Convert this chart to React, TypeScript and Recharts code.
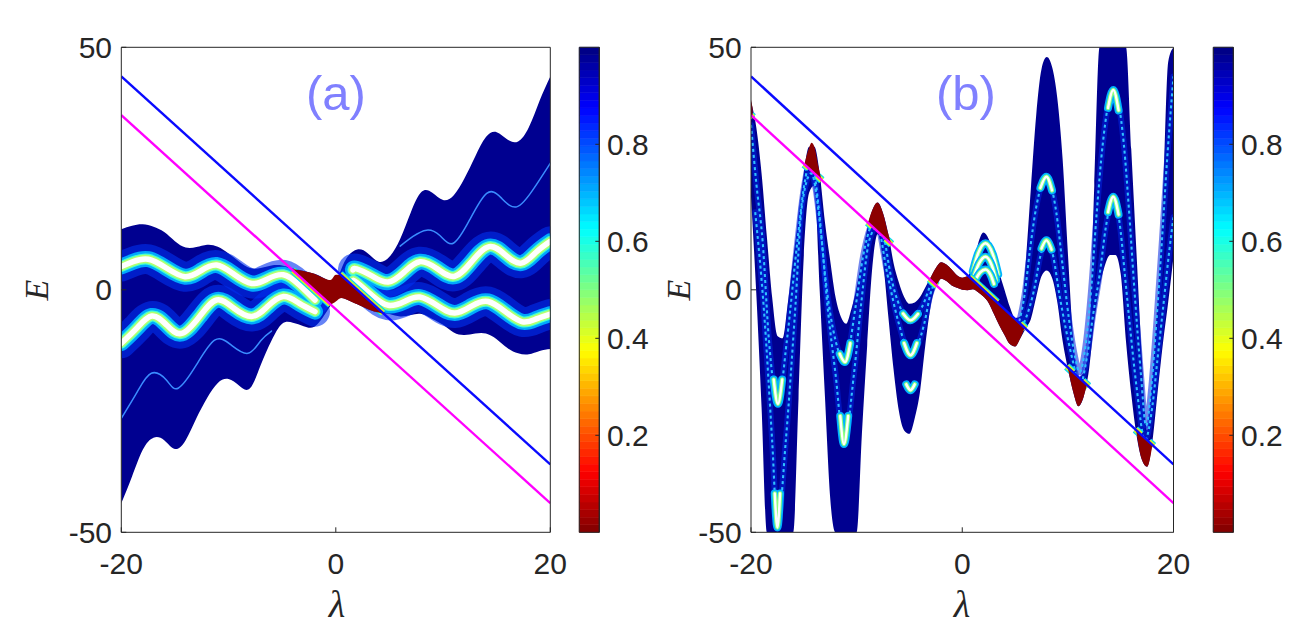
import { Area, ComposedChart, Line, ReferenceArea, XAxis, YAxis } from 'recharts';

const SANS = '"Liberation Sans", Arial, Helvetica, sans-serif';
const SERIF = '"Liberation Serif", "Times New Roman", serif';
const INK = '#262626';
const NAVY = '#000090';
const DARK_RED = '#8c0000';
const BLUE = '#0a0aff';
const MAGENTA = '#ff00ff';
const PANEL_LABEL = '#8080ff';

const LAMBDA_TICKS = [-20, 0, 20];
const E_TICKS = [-50, 0, 50];
const CBAR_TICKS = [0.2, 0.4, 0.6, 0.8];
const CBAR_STEPS = 64;

// the two straight lines, read at both ends of the lambda range
const lineLam = [-20, 20];
const blueE = [44, -36];
const magentaE = [36, -44];

// ---------- panel (a) ----------
// left band (envelope of the dark blue region)
const aLeftLam = [-20, -19, -18, -17, -16, -15, -14, -13, -12, -11, -10, -9, -8, -7, -6, -5, -4, -3, -2, -1, -0.3];
const aLeftHi = [12.5, 13.2, 13.5, 13.0, 11.9, 10.0, 8.7, 8.8, 9.3, 8.9, 7.5, 5.8, 4.5, 4.5, 5.0, 5.0, 4.4, 3.9, 3.3, 2.3, 1.5];
const aLeftLo = [-44, -38.5, -33, -30.5, -31, -32.8, -31, -26.5, -22.3, -19.2, -18.4, -19.8, -20.3, -15.5, -10.5, -7.0, -6.8, -7.5, -7.6, -5.0, -2.5];
// right band
const aRightLam = [0.3, 1, 2, 3, 4, 5, 6, 7, 8, 9, 10, 11, 12, 13, 14, 15, 16, 17, 18, 19, 20];
const aRightHi = [3.0, 6.5, 8.3, 7.5, 5.8, 6.8, 10.5, 16, 20.2, 20, 18.5, 19.5, 23, 27.5, 31.5, 32.5, 31, 30.6, 33.5, 39, 44];
const aRightLo = [-1.5, -2.0, -3.0, -4.0, -4.7, -5.0, -5.5, -5.2, -5.0, -6.0, -7.2, -8.8, -9.3, -9.0, -9.0, -10.2, -12.0, -13.1, -13.3, -12.6, -12.2];
// bright curves
const a1Lam = [-20, -18.9, -17.48, -15.8, -14.06, -12.6, -11.11, -9.5, -7.84, -6.4, -4.89, -3.4, -1.94];
const a1E = [4.8, 5.8, 6.3, 4.5, 2.7, 3.9, 5.1, 3.2, 1.3, 2.2, 3.1, 1.0, -2.1];
const a2Lam = [-20, -18.6, -17.17, -15.8, -14.37, -12.7, -11.11, -9.5, -7.84, -6.4, -4.89, -3.4, -1.94];
const a2E = [-11.0, -8.0, -5.4, -7.2, -9.0, -5.5, -2.1, -3.8, -5.5, -3.5, -1.4, -2.8, -4.5];
const a3Lam = [1.6, 1.94, 3.4, 4.89, 6.4, 7.84, 9.5, 11.1, 12.7, 14.3, 15.8, 17.3, 18.7, 20];
const a3E = [4.1, 4.3, 2.8, 1.6, 3.7, 5.8, 4.3, 2.8, 5.9, 8.9, 7.2, 5.5, 7.8, 10.0];
const a4Lam = [1.6, 1.94, 3.4, 4.89, 6.4, 7.84, 9.5, 11.1, 12.7, 14.2, 15.8, 17.4, 18.7, 20];
const a4E = [1.9, 1.5, -1.2, -3.2, -2.4, -1.5, -3.3, -4.8, -3.3, -2.4, -4.5, -6.6, -6.0, -5.0];
// faint thin curves
const aF1Lam = [-20, -18.5, -17.2, -15.8, -14.7, -13, -11.3, -9.8, -8.2, -7, -6];
const aF1E = [-26.5, -21, -17.2, -18.6, -20.3, -15.5, -10.4, -11.3, -13.1, -10.5, -8.5];
const aF2Lam = [6, 7.2, 8.47, 9.7, 10.96, 12.5, 14.07, 15.4, 16.87, 18.5, 20];
const aF2E = [9.0, 11, 12.3, 11.2, 9.6, 14.5, 19.9, 19, 17.1, 21, 26.1];
// dark red part (between the two lines)
const aRedLam = [-4.0, -3.5, -3.0, -2.5, -2.0, -1.5, -1.0, -0.5, 0.0, 0.5, 1.0, 1.5, 2.0, 2.5, 3.0, 3.5, 4.0, 4.5];
const aRedLo = [4.0, 3.0, 2.0, 1.0, 0.0, -1.0, -2.0, -3.0, -2.4, -1.7, -2.0, -2.5, -3.0, -3.5, -4.0, -4.4, -4.7, -5.0];
const aRedHi = [4.3, 4.1, 3.9, 3.6, 3.3, 2.8, 2.3, 2.0, 3.1, 3.0, 2.0, 1.0, 0.0, -1.0, -2.0, -3.0, -4.0, -5.0];
// where the band touches the lines (coloured fringe)
const aEdges: [number[], number[]][] = [
  [[-4.0, -0.5], [4.0, -3.0]],
  [[0.4, 4.4], [3.2, -4.8]],
];

// ---------- panel (b) ----------
const bLam = [
  -20, -19.5, -19, -18.5, -18, -17.5, -17, -16.5, -16, -15.5,
  -15, -14.5, -14, -13.5, -13, -12.5, -12, -11.5, -11, -10.5,
  -10, -9.5, -9, -8.5, -8, -7.5, -7, -6.5, -6, -5.5,
  -5, -4.5, -4, -3.5, -3, -2.5, -2, -1.5, -1, -0.5,
  0, 0.5, 1, 1.5, 2, 2.5, 3, 3.5, 4, 4.5,
  5, 5.5, 6, 6.5, 7, 7.5, 8, 8.5, 9, 9.5,
  10, 10.5, 11, 11.5, 12, 12.5, 13, 13.5, 14, 14.5,
  15, 15.5, 16, 16.5, 17, 17.5, 18, 18.5, 19, 19.5,
  20,
];
const bHi = [
  38.8, 33.5, 24, 11, -1.5, -9.5, -10, -2.5, 6.5, 15,
  24, 29.5, 29.5, 24, 14, 6, -1.5, -5.5, -7, -4,
  0.5, 6.5, 12.5, 16.5, 18, 15.8, 11.5, 5.5, 1.5, -1.5,
  -2.9, -2.6, -1.5, 0.5, 2.5, 4.5, 5.7, 5.2, 4.2, 3.0,
  2.5, 2.8, 5.0, 9.5, 11.8, 10.5, 7, 3.5, 0, -3.5,
  -5.8, -5.5, 5.3, 21, 36, 45.5, 48, 46, 39.5, 27,
  7.6, -10, -18, -17, -10.4, 21.5, 50, 50, 50, 50,
  50, 50, 29, 7.5, -14, -29, -18, -1.6, 18.7, 47,
  50,
];
const bLo = [
  19.2, -0.7, -24.2, -50, -50, -50, -50, -50, -50, -22.4,
  7, 20, 21.5, 0, -22, -43, -50, -50, -50, -50,
  -50, -29.7, -11.5, 5, 11.5, 5.8, -5.5, -16.5, -25, -29,
  -29.7, -26.5, -21, -11.5, -3.5, 0.8, 2.3, 1.8, 0.9, 0.4,
  0, -0.1, 0.1, -0.5, -1.4, -2.7, -5, -7.3, -9.3, -11.2,
  -11.7, -10, -8, -6, -1.5, 2.8, 4.0, 2.5, -2.5, -10.5,
  -16.3, -21, -24, -22, -16.5, -6.5, 0.5, 5, 7.2, 7.2,
  3.3, -10.6, -21.5, -30, -35, -36.5, -31.3, -21, -11, -2.5,
  6.8,
];
// dotted bright curves running inside the tube
const bC1Lam = [
  -20, -19.5, -18.9, -18.3, -17.45, -16.6, -15.6, -15.0, -14.3, -13.6, -13.0, -12.0, -11.1, -10.1, -9.4, -8.7,
  -8.05, -7.35, -6.8, -5.9, -4.9, -3.8, -2.8, -2.0,
];
const bC1E = [34, 22, 10, -10.4, -23.5, -10.4, 10.2, 21, 27, 17.1, 3.3, -10.4, -14.9, -3.5, 6.8, 13, 15.5, 10.2, 3.3, -3.5, -6.3, -3.5, 2.0, 4.0];
const bC1RLam = [5.4, 5.9, 6.4, 7.0, 7.97, 8.9, 9.5, 10.1, 10.7, 11.1, 11.7, 12.2, 12.7, 13.3, 14.3, 15.3, 15.8, 16.3, 16.9, 17.4, 17.9, 18.4, 18.9, 19.4, 20];
const bC1RE = [-6.5, -1, 8, 17, 23.3, 16, 5, -6, -14, -17, -11, 0, 15, 30, 41.2, 30, 16, 0, -17, -28, -20, -6, 10, 27, 44];
const bC2Lam = [
  -19.6, -18.8, -18.0, -17.5, -16.7, -15.8, -15.2, -14.3, -13.3, -12.75, -12.0, -11.2, -10.25, -9.6, -8.8, -8.05,
  -7.1, -6.0, -4.9, -3.6, -3.0, -2.3,
];
const bC2E = [16, -3.5, -31, -49, -31, -3.5, 17, 24, 10, -3.5, -17.3, -31.8, -17.3, -3.5, 10.2, 13, 3.3, -7, -13.5, -7, -0.8, 2.5];
const bC2RLam = [5.3, 6.0, 6.8, 7.4, 7.97, 8.6, 9.2, 9.8, 10.5, 11.1, 11.8, 12.4, 13.0, 13.6, 14.3, 15.0, 15.4, 15.9, 16.5, 17.3, 18.0, 18.5, 19.0, 19.6, 20];
const bC2RE = [-9, -6, 0, 7, 10.2, 7, -1, -8, -15, -20, -14, -5, 3, 13, 19.2, 12, 3, -8, -20, -31, -24, -14, -4, 8, 15];
// white arcs at the bottoms / tops of the lobes
const bArcs: [number[], number[]][] = [
  [[-17.85, -17.45, -17.05], [-18.5, -23.5, -18.5]],
  [[-17.75, -17.5, -17.25], [-42, -49, -42]],
  [[-11.6, -11.1, -10.6], [-13.2, -14.9, -11]],
  [[-11.55, -11.2, -10.8], [-26, -31.8, -26]],
  [[-5.6, -4.9, -4.2], [-4.9, -6.3, -5.0]],
  [[-5.5, -4.9, -4.3], [-11, -13.5, -11]],
  [[-5.3, -4.9, -4.5], [-19.5, -20.7, -19.5]],
  [[7.4, 7.97, 8.5], [21, 23.3, 20.5]],
  [[7.5, 7.97, 8.45], [8.5, 10.2, 8.3]],
  [[13.8, 14.3, 14.8], [37.5, 41.2, 37]],
  [[13.8, 14.3, 14.8], [16, 19.2, 15.5]],
  [[1.0, 1.5, 2.2, 2.9, 3.4], [3.8, 7.5, 9.6, 7.3, 3.2]],
  [[1.1, 1.6, 2.2, 2.8, 3.2], [2.8, 5.5, 6.8, 5.0, 2.0]],
  [[1.2, 1.7, 2.2, 2.7, 3.0], [1.9, 3.6, 4.2, 3.0, 1.2]],
];
// dark red parts (tube inside the strip between the two lines)
const bRed1Lam = [-20, -19.85];
const bRed1Lo = [36, 35.7];
const bRed1Hi = [39.2, 37.5];
const bRed2Lam = [-14.9, -14.5, -14.27, -14.0, -13.6, -13.35];
const bRed2Lo = [25.8, 25, 24.5, 24, 23.2, 22.7];
const bRed2Hi = [26.3, 29.3, 30.3, 29.5, 25.2, 22.9];
const bRed3Lam = [-8.9, -8.5, -8.05, -7.5, -7.0, -6.75];
const bRed3Lo = [13.8, 13, 12.1, 11, 10, 9.5];
const bRed3Hi = [14.0, 16.5, 18, 15.8, 11.5, 9.7];
const bRed4Lam = [-3.05, -2.5, -2.0, -1.5, -1.0, -0.5, 0, 0.5, 1.0, 1.5, 2.0, 2.5, 3.0, 3.5, 4.0, 4.5, 5.0, 5.5, 5.9];
const bRed4Lo = [2.1, 1.0, 2.3, 1.8, 0.9, 0.4, 0, -0.1, 0.1, -0.5, -1.4, -2.7, -5, -7.3, -9.3, -11.2, -11.7, -10, -7.8];
const bRed4Hi = [2.3, 4.5, 5.7, 5.2, 4.2, 3.0, 2.5, 2.8, 2.0, 1.0, 0, -1, -2, -3, -4, -5, -6, -7, -7.8];
const bRed5Lam = [10.0, 10.5, 11.0, 11.5, 11.8];
const bRed5Lo = [-16.2, -21, -24, -22, -19.6];
const bRed5Hi = [-16, -17, -18, -19, -19.6];
const bRed6Lam = [16.5, 17.0, 17.5, 18.0];
const bRed6Lo = [-29.5, -35, -36.5, -32];
const bRed6Hi = [-29, -30, -31, -32];
// stretches of the lines where the tube legs cross them
const bEdges: [number[], number[]][] = [
  [[-20, -19.8], [36, 35.6]],
  [[-14.95, -14.55], [25.9, 25.1]],
  [[-13.75, -13.3], [23.5, 22.6]],
  [[-8.95, -8.5], [13.9, 13.0]],
  [[-7.25, -6.7], [10.5, 9.4]],
  [[-3.1, -2.4], [2.2, 0.8]],
  [[0.7, 3.3], [2.6, -2.6]],
  [[5.5, 6.0], [-7.0, -8.0]],
  [[9.9, 10.5], [-15.8, -17.0]],
  [[11.4, 11.95], [-18.8, -19.9]],
  [[16.4, 16.9], [-28.8, -29.8]],
  [[17.65, 18.1], [-31.3, -32.2]],
];

// ---------- helpers ----------
type Row = { lam: number; e: number };
type BandRow = { lam: number; band: [number, number] };
type Layer = [string, number, number?];

const toRows = (lam: number[], e: number[]): Row[] => lam.map((l, i) => ({ lam: l, e: e[i] }));
const toBand = (lam: number[], lo: number[], hi: number[]): BandRow[] =>
  lam.map((l, i) => ({ lam: l, band: [lo[i], hi[i]] as [number, number] }));

const CURVE_GLOW: Layer[] = [
  ['#0030f0', 30, 0.6],
  ['#00a8ff', 16],
  ['#45ffd0', 11],
  ['#b4ff70', 8.5],
  ['#ffffff', 5.5],
];
const ARC_GLOW: Layer[] = [
  ['#00b4ff', 8],
  ['#90ff80', 4.5],
  ['#ffffff', 2.4],
];
const EDGE_GLOW: Layer[] = [
  ['#00d0ff', 8],
  ['#80ff70', 6],
  ['#ffee00', 4.2],
  ['#ff8800', 2.4],
];

// MATLAB jet, 0 = dark blue, 1 = dark red
function jet(t: number) {
  const c = (v: number) => Math.round(255 * Math.max(0, Math.min(1, v)));
  return `rgb(${c(1.5 - Math.abs(4 * t - 3))},${c(1.5 - Math.abs(4 * t - 2))},${c(1.5 - Math.abs(4 * t - 1))})`;
}

function seriesKit(curve: 'monotone' | 'natural') {
  let z = 1;
  const band = (key: string, data: BandRow[], fill: string, type: string = curve) => (
    <Area
      key={key}
      data={data}
      dataKey="band"
      type={type as 'monotone'}
      fill={fill}
      fillOpacity={1}
      stroke="none"
      dot={false}
      activeDot={false}
      isAnimationActive={false}
      zIndex={z++}
    />
  );
  const line = (key: string, data: Row[], stroke: string, width: number, opacity = 1, extra: object = {}) => (
    <Line
      key={key}
      data={data}
      dataKey="e"
      type={curve}
      stroke={stroke}
      strokeWidth={width}
      strokeOpacity={opacity}
      strokeLinecap="round"
      strokeLinejoin="round"
      dot={false}
      activeDot={false}
      isAnimationActive={false}
      zIndex={z++}
      {...extra}
    />
  );
  const glow = (key: string, data: Row[], layers: Layer[], extra: object = {}) =>
    layers.map(([c, w, o], i) => line(`${key}-${i}`, data, c, w, o ?? 1, extra));
  const straight = (key: string, e: number[], color: string) =>
    line(key, toRows(lineLam, e), color, 2.4, 1, { type: 'linear', strokeLinecap: 'butt' });
  return { band, line, glow, straight };
}

const tickFont = { fontFamily: SANS, fontSize: 30, fill: INK };
const segment = { type: 'linear', strokeLinecap: 'butt' };

function frameAxes() {
  return [
    <XAxis
      key="xb"
      type="number"
      dataKey="lam"
      domain={[-20, 20]}
      ticks={LAMBDA_TICKS}
      interval={0}
      allowDataOverflow
      height={60}
      tickSize={-5}
      tickMargin={25.7}
      tick={tickFont}
      axisLine={{ stroke: INK }}
      tickLine={{ stroke: INK }}
    />,
    <XAxis
      key="xt"
      xAxisId="top"
      orientation="top"
      type="number"
      dataKey="lam"
      domain={[-20, 20]}
      ticks={LAMBDA_TICKS}
      interval={0}
      allowDataOverflow
      height={1}
      tickSize={-5}
      tick={false}
      axisLine={{ stroke: INK }}
      tickLine={{ stroke: INK }}
    />,
    <YAxis
      key="yl"
      type="number"
      domain={[-50, 50]}
      ticks={E_TICKS}
      interval={0}
      allowDataOverflow
      width={100}
      tickSize={-5}
      tickMargin={14.3}
      tick={tickFont}
      axisLine={{ stroke: INK }}
      tickLine={{ stroke: INK }}
    />,
    <YAxis
      key="yr"
      yAxisId="right"
      orientation="right"
      type="number"
      domain={[-50, 50]}
      ticks={E_TICKS}
      interval={0}
      allowDataOverflow
      width={1}
      tickSize={-5}
      tick={false}
      axisLine={{ stroke: INK }}
      tickLine={{ stroke: INK }}
    />,
  ];
}

function panelASeries() {
  const k = seriesKit('natural');
  const curves = [toRows(a1Lam, a1E), toRows(a2Lam, a2E), toRows(a3Lam, a3E), toRows(a4Lam, a4E)];
  return [
    k.band('aL', toBand(aLeftLam, aLeftLo, aLeftHi), NAVY),
    k.band('aR', toBand(aRightLam, aRightLo, aRightHi), NAVY),
    k.line('aF1', toRows(aF1Lam, aF1E), '#3a8cff', 1.5),
    k.line('aF2', toRows(aF2Lam, aF2E), '#3a8cff', 1.5),
    ...CURVE_GLOW.flatMap(([c, w, o], i) => curves.map((d, j) => k.line(`a${j}-${i}`, d, c, w, o ?? 1))),
    ...aEdges.flatMap(([lam, e], i) => k.glow(`aEdge${i}`, toRows(lam, e), EDGE_GLOW, segment)),
    k.band('aRed', toBand(aRedLam, aRedLo, aRedHi), DARK_RED, 'monotone'),
    k.straight('aBlue', blueE, BLUE),
    k.straight('aMag', magentaE, MAGENTA),
  ];
}

function panelBSeries() {
  const k = seriesKit('monotone');
  const dotted = { strokeDasharray: '3 3', strokeLinecap: 'butt' };
  const cCurves = [
    toRows(bC1Lam, bC1E),
    toRows(bC1RLam, bC1RE),
    toRows(bC2Lam, bC2E),
    toRows(bC2RLam, bC2RE),
  ];
  return [
    k.band('bBand', toBand(bLam, bLo, bHi), NAVY),
    ...cCurves.map((d, i) => k.line(`bCu${i}`, d, '#0024e0', 6, 0.55)),
    ...cCurves.map((d, i) => k.line(`bCd${i}`, d, '#30c0ff', 2.1, 1, dotted)),
    ...bArcs.flatMap(([lam, e], i) => k.glow(`bArc${i}`, toRows(lam, e), ARC_GLOW)),
    ...bEdges.flatMap(([lam, e], i) => k.glow(`bEdge${i}`, toRows(lam, e), EDGE_GLOW, segment)),
    k.band('bRed1', toBand(bRed1Lam, bRed1Lo, bRed1Hi), DARK_RED),
    k.band('bRed2', toBand(bRed2Lam, bRed2Lo, bRed2Hi), DARK_RED),
    k.band('bRed3', toBand(bRed3Lam, bRed3Lo, bRed3Hi), DARK_RED),
    k.band('bRed4', toBand(bRed4Lam, bRed4Lo, bRed4Hi), DARK_RED),
    k.band('bRed5', toBand(bRed5Lam, bRed5Lo, bRed5Hi), DARK_RED),
    k.band('bRed6', toBand(bRed6Lam, bRed6Lo, bRed6Hi), DARK_RED),
    k.straight('bBlue', blueE, BLUE),
    k.straight('bMag', magentaE, MAGENTA),
  ];
}

const CBAR_LEVELS = Array.from({ length: CBAR_STEPS }, (_, i) => i);

function Colorbar({ left, width }: { left: number; width: number }) {
  return (
    <div style={{ position: 'absolute', left, top: 0 }}>
      <ComposedChart
        width={width}
        height={627}
        margin={{ top: 47.3, bottom: 94.7, left: 19.3, right: width - 39.3 - 70 }}
      >
        <XAxis type="number" dataKey="v" domain={[0, 1]} hide allowDataOverflow />
        <YAxis
          orientation="right"
          type="number"
          domain={[0, 1]}
          ticks={CBAR_TICKS}
          interval={0}
          allowDataOverflow
          width={70}
          tickSize={-4}
          tickMargin={11.7}
          tick={tickFont}
          axisLine={{ stroke: INK }}
          tickLine={{ stroke: INK }}
        />
        {CBAR_LEVELS.map(lv => {
          const color = jet(1 - (lv + 0.5) / CBAR_STEPS);
          return (
            <ReferenceArea
              key={lv}
              y1={lv / CBAR_STEPS}
              y2={(lv + 1) / CBAR_STEPS}
              fill={color}
              fillOpacity={1}
              stroke={color}
              strokeWidth={0.6}
              ifOverflow="visible"
            />
          );
        })}
        <ReferenceArea y1={0} y2={1} fill="none" stroke={INK} strokeWidth={1} ifOverflow="visible" />
      </ComposedChart>
    </div>
  );
}

export default function App() {
  return (
    <div
      style={{
        position: 'absolute',
        left: 0,
        top: 0,
        width: 1315,
        height: 627,
        background: '#ffffff',
        overflow: 'hidden',
      }}
    >
      <div style={{ position: 'absolute', left: 0, top: 0 }}>
        <ComposedChart width={580} height={627} margin={{ top: 46.3, right: 28.7, bottom: 34.7, left: 21.3 }}>
          {frameAxes()}
          {panelASeries()}
        </ComposedChart>
      </div>
      <Colorbar left={560} width={120} />
      <div style={{ position: 'absolute', left: 640, top: 0 }}>
        <ComposedChart width={560} height={627} margin={{ top: 46.3, right: 25.5, bottom: 34.7, left: 11 }}>
          {frameAxes()}
          {panelBSeries()}
        </ComposedChart>
      </div>
      <Colorbar left={1194} width={121} />
      <svg
        width={1315}
        height={627}
        style={{ position: 'absolute', left: 0, top: 0, pointerEvents: 'none' }}
      >
        <text x={336} y={110} textAnchor="middle" fontFamily={SANS} fontSize={49} fill={PANEL_LABEL}>
          (a)
        </text>
        <text x={966} y={110} textAnchor="middle" fontFamily={SANS} fontSize={49} fill={PANEL_LABEL}>
          (b)
        </text>
        <text
          transform="translate(48,290) rotate(-90)"
          textAnchor="middle"
          fontFamily={SERIF}
          fontStyle="italic"
          fontSize={34}
          fill={INK}
        >
          E
        </text>
        <text
          transform="translate(690,290) rotate(-90)"
          textAnchor="middle"
          fontFamily={SERIF}
          fontStyle="italic"
          fontSize={34}
          fill={INK}
        >
          E
        </text>
        <text x={337} y={617} textAnchor="middle" fontFamily={SERIF} fontStyle="italic" fontSize={38} fill={INK}>
          λ
        </text>
        <text x={962} y={617} textAnchor="middle" fontFamily={SERIF} fontStyle="italic" fontSize={38} fill={INK}>
          λ
        </text>
      </svg>
    </div>
  );
}
